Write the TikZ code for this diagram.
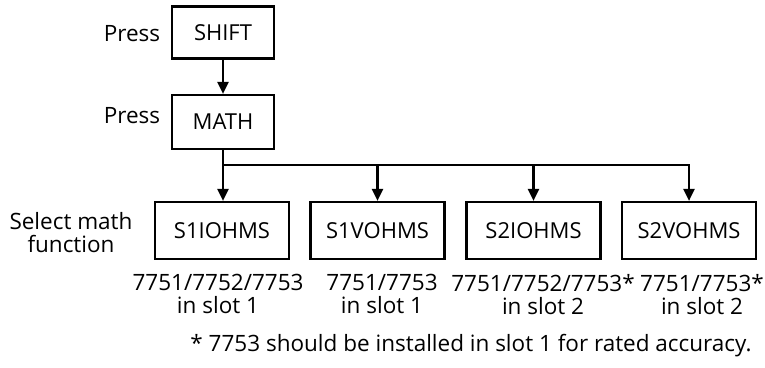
\documentclass[tikz,border=0pt]{standalone}
\usepackage{fontspec}
\setmainfont{Open Sans}
\usetikzlibrary{arrows.meta}
\begin{document}
\begin{tikzpicture}[x=1pt,y=-1pt,
 box/.style={draw,line width=2.2pt,minimum width=102pt,minimum height=52pt,inner sep=0pt,font=\fontsize{22}{24}\selectfont,text height=15.5pt,text depth=0pt},
 fbox/.style={box,minimum width=134pt,minimum height=57pt},
 lbl/.style={font=\fontsize{22.5}{23.5}\selectfont,align=center,inner sep=0pt},
 arr/.style={line width=2.2pt,-{Triangle[length=12pt,width=11pt]}}
]
\useasboundingbox (0,0) rectangle (765,367);
\node[box] (shift) at (223,32.5) {SHIFT};
\node[box,minimum height=54pt] (math) at (223,122) {MATH};
\node[lbl] (p1) at (132,34) {Press};
\node[lbl] (p2) at (132,116) {Press};
\node[fbox] (f1) at (222,230.5) {S1IOHMS};
\node[fbox] (f2) at (377.5,230.5) {S1VOHMS};
\node[fbox] (f3) at (533.5,230.5) {S2IOHMS};
\node[fbox] (f4) at (689,230.5) {S2VOHMS};
\node[lbl,anchor=north] (sel) at (71,212) {Select math\\function};
\node[lbl,anchor=north] (l1) at (218,274) {7751/7752/7753\\in slot 1};
\node[lbl,anchor=north] (l2) at (382,274) {7751/7753\\in slot 1};
\node[lbl,anchor=north] (l3) at (543,274) {7751/7752/7753*\\in slot 2};
\node[lbl,anchor=north] (l4) at (702,274) {7751/7753*\\in slot 2};
\node[lbl,anchor=base] (note) at (471,351) {* 7753 should be installed in slot 1 for rated accuracy.};
\coordinate (b0) at (223,165);
\draw[arr] (shift) -- (math);
\draw[arr] (math.south) |- (f4.north |- b0) -- (f4.north);
\draw[arr] (b0) -- (b0 |- f1.north);
\draw[arr] (f2.north |- b0) -- (f2.north);
\draw[arr] (f3.north |- b0) -- (f3.north);
\end{tikzpicture}
\end{document}
